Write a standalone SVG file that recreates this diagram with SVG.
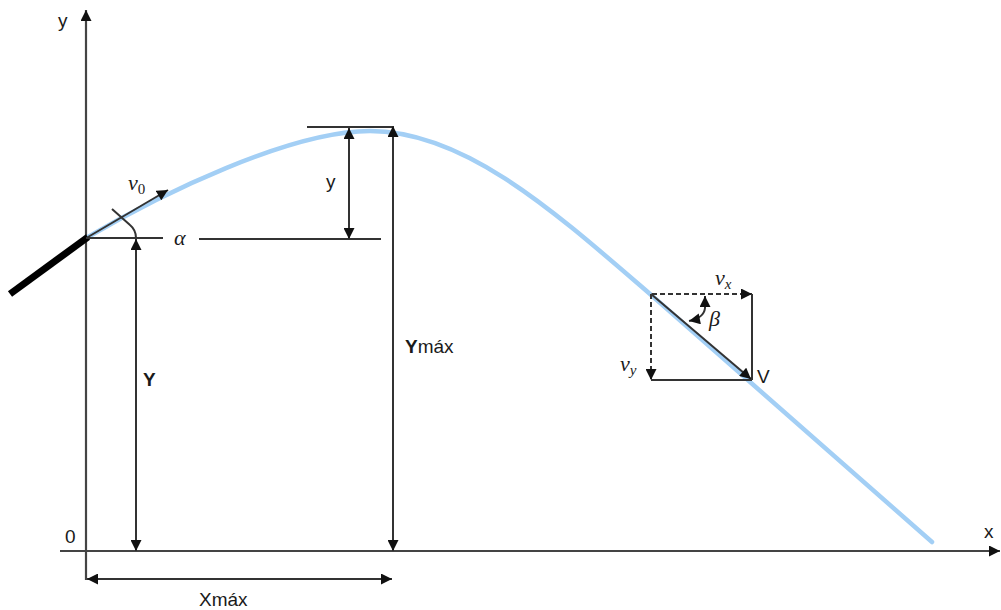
<svg xmlns="http://www.w3.org/2000/svg" width="1001" height="610" viewBox="0 0 1001 610">
  <style>
    .axis { stroke: #444; stroke-width: 2.2; fill: none; }
    .ln { stroke: #333; stroke-width: 2; fill: none; }
    .dash { stroke: #333; stroke-width: 2; fill: none; stroke-dasharray: 5,3; }
    .traj { stroke: #a3cff5; stroke-width: 4.5; fill: none; stroke-linecap: round; }
    .t { font-family: "Liberation Sans", Arial, sans-serif; font-size: 19px; fill: #1a1a1a; }
    .m { font-family: "Liberation Serif", "DejaVu Serif", serif; font-style: italic; font-size: 22px; fill: #1a1a1a; }
    .b { font-weight: bold; }
  </style>
  <defs>
    <marker id="ah" viewBox="0 0 10 10" refX="10" refY="5" markerUnits="userSpaceOnUse" markerWidth="12" markerHeight="11" orient="auto-start-reverse">
      <path d="M0,0 L10,5 L0,10 z" fill="#111"/>
    </marker>
  </defs>
  <rect width="1001" height="610" fill="#fff"/>

  <g id="axes">
    <line class="axis" x1="86" y1="580" x2="86" y2="10" marker-end="url(#ah)"/>
    <line class="axis" x1="60" y1="551" x2="1000" y2="551" marker-end="url(#ah)"/>
    <text class="t" x="58" y="27" font-size="21">y</text>
    <text class="t" x="984" y="538" font-size="20">x</text>
    <text class="t" x="65" y="543">0</text>
  </g>

  <g id="trajectory">
    <path class="traj" d="M88,237 C160,194.5 290,131 370,131 C465,131 555,212 650,294 C744,376 838,459 932,542"/>
  </g>

  <g id="launcher">
    <line x1="10" y1="294" x2="88" y2="237" stroke="#000" stroke-width="7"/>
  </g>

  <g id="connectors">
    <line class="ln" x1="86" y1="238" x2="163" y2="238"/>
    <line class="ln" x1="199" y1="239" x2="381" y2="239"/>
    <line class="ln" x1="88" y1="237" x2="168" y2="190" marker-end="url(#ah)"/>
    <path class="ln" d="M112,209 L130,225 Q136,230 136,238"/>
    <line class="ln" x1="136" y1="239" x2="136" y2="551" marker-start="url(#ah)" marker-end="url(#ah)"/>
    <line class="ln" x1="349" y1="128" x2="349" y2="239" marker-start="url(#ah)" marker-end="url(#ah)"/>
    <line class="ln" x1="307" y1="127" x2="393" y2="127"/>
    <line class="ln" x1="393" y1="126" x2="393" y2="551" marker-start="url(#ah)" marker-end="url(#ah)"/>
    <line class="ln" x1="87" y1="579" x2="392" y2="579" marker-start="url(#ah)" marker-end="url(#ah)"/>
    <line class="dash" x1="652" y1="294" x2="752" y2="294" marker-end="url(#ah)"/>
    <line class="dash" x1="651" y1="294" x2="651" y2="380" marker-end="url(#ah)"/>
    <line class="ln" x1="752" y1="294" x2="752" y2="380"/>
    <line class="ln" x1="651" y1="380" x2="752" y2="380"/>
    <line class="ln" x1="651" y1="294" x2="751" y2="379" marker-end="url(#ah)"/>
    <path class="ln" d="M689,321 Q704,318 705,308 L705,296" marker-start="url(#ah)" marker-end="url(#ah)"/>
  </g>

  <g id="labels">
    <text class="m" x="128" y="190">v<tspan font-size="15" font-style="normal" dy="4">0</tspan></text>
    <text class="m" x="174" y="245">α</text>
    <text class="t" x="326" y="188" font-size="21">y</text>
    <text class="t b" x="143" y="386">Y</text>
    <text class="t" x="405" y="353"><tspan class="b">Y</tspan>máx</text>
    <text class="t" x="199" y="606">Xmáx</text>
    <text class="m" x="715" y="285">v<tspan font-size="15" dy="4">x</tspan></text>
    <text class="m" x="620" y="371">v<tspan font-size="15" dy="4">y</tspan></text>
    <text class="m" x="709" y="326">β</text>
    <text class="t" x="757" y="383" font-size="21">V</text>
  </g>
</svg>
